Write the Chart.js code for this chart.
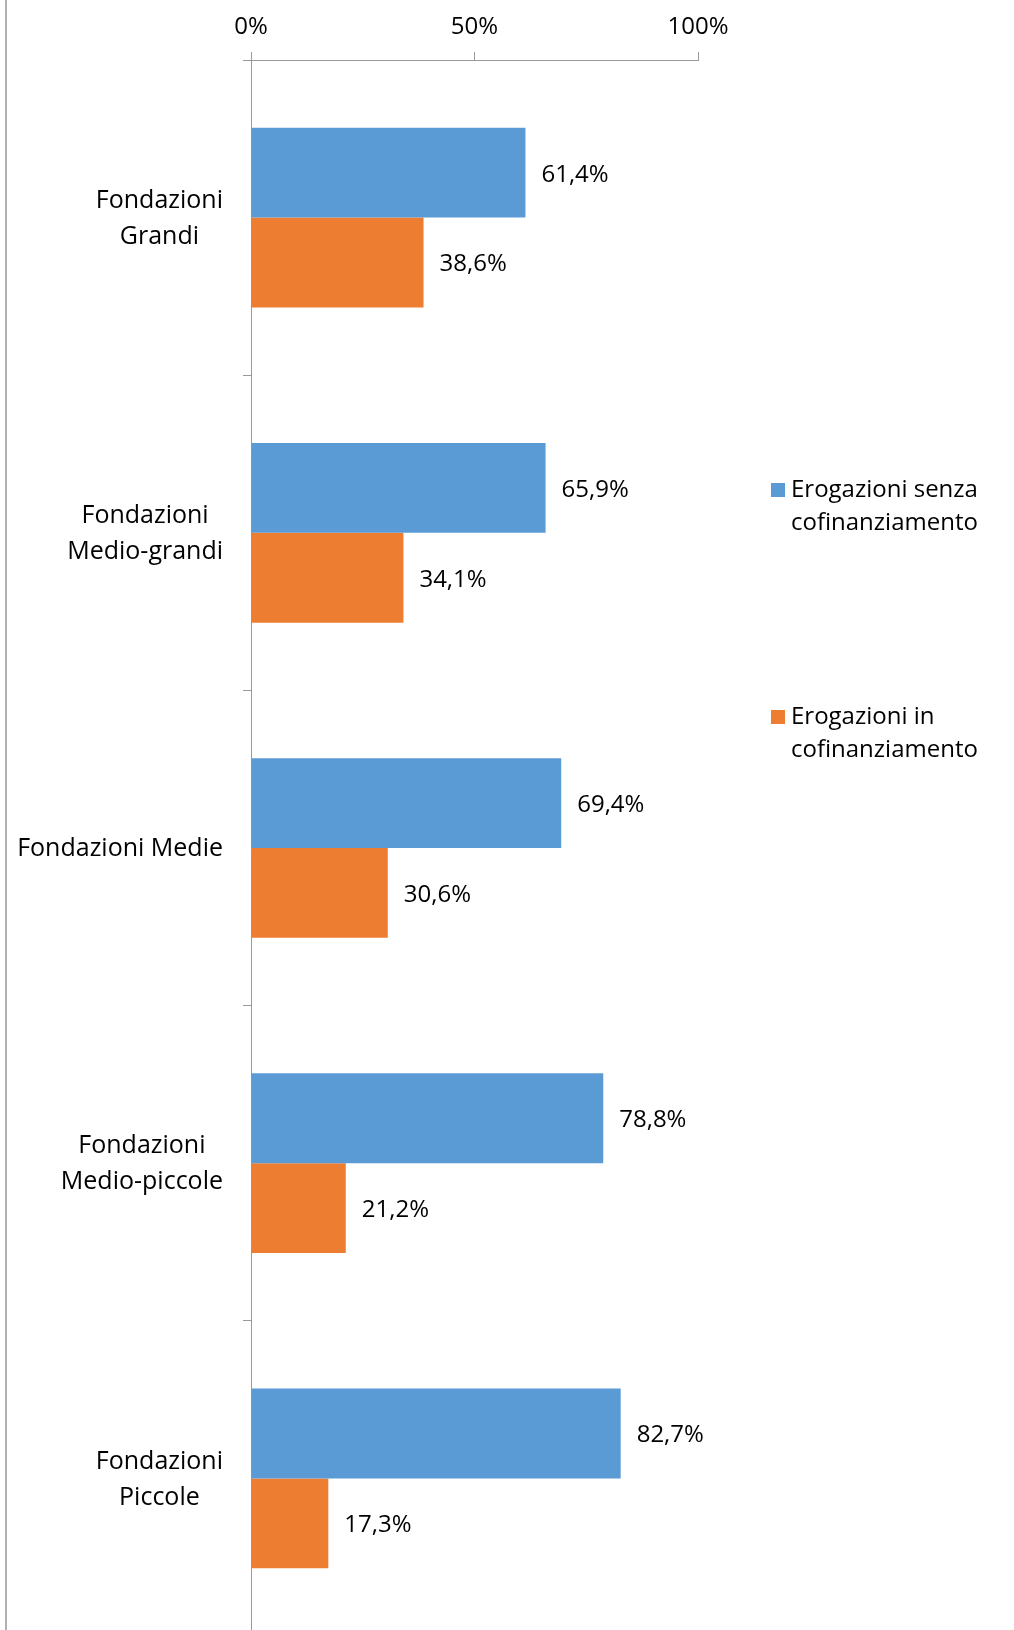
<!DOCTYPE html>
<html>
<head>
<meta charset="utf-8">
<script src="https://cdn.jsdelivr.net/npm/chart.js@4.4.1/dist/chart.umd.min.js"></script>
<style>
  html, body { margin: 0; padding: 0; background: #fff; overflow: hidden; }
  #wrap { position: relative; width: 1014px; height: 1640px; }
  #frame { position: absolute; left: 5px; top: 0; width: 0; height: 1640px; border-left: 2px solid #b0b0b0; }
  canvas { position: absolute; left: 0; top: 0; }
</style>
</head>
<body>
<div id="wrap">
  <canvas id="c" width="1014" height="1640"></canvas>
  <div id="frame"></div>
</div>
<script>
const categories = [
  ["Fondazioni", "Grandi"],
  ["Fondazioni", "Medio-grandi"],
  ["Fondazioni Medie"],
  ["Fondazioni", "Medio-piccole"],
  ["Fondazioni", "Piccole"]
];
const seriesNames = [
  ["Erogazioni senza", "cofinanziamento"],
  ["Erogazioni in", "cofinanziamento"]
];
const senzaCofin = [61.4, 65.9, 69.4, 78.8, 82.7];
const inCofin = [38.6, 34.1, 30.6, 21.2, 17.3];
const xTicks = [0, 50, 100];
const colors = ["#5B9BD5", "#ED7D31"];

const FONT = "'Open Sans', sans-serif";
const FS = 24;
const FS_CAT = 25;

function fmt(v) { return v.toFixed(1).replace('.', ',') + '%'; }

const labelsPlugin = {
  id: 'customLabels',
  afterDatasetsDraw(chart) {
    const ctx = chart.ctx;
    ctx.save();
    ctx.font = FS + "px " + FONT;
    ctx.fillStyle = "#000";
    ctx.textBaseline = "middle";
    // data labels
    chart.data.datasets.forEach((ds, di) => {
      const meta = chart.getDatasetMeta(di);
      meta.data.forEach((bar, i) => {
        ctx.textAlign = "left";
        ctx.fillText(fmt(ds.data[i]), bar.x + 16, bar.y + 2);
      });
    });
    // legend
    const legendX = 771, legendTops = [490, 717], llh = 33;
    chart.data.datasets.forEach((ds, di) => {
      const y0 = legendTops[di];
      ctx.fillStyle = ds.backgroundColor;
      ctx.fillRect(legendX, y0 - 7, 14, 14);
      ctx.fillStyle = "#000";
      ctx.textAlign = "left";
      seriesNames[di].forEach((l, k) => ctx.fillText(l, legendX + 20, y0 + k * llh));
    });
    // category labels (block right-aligned, lines centered)
    ctx.font = FS_CAT + "px " + FONT;
    const yScale = chart.scales.y;
    const blockRight = chart.chartArea.left - 28;
    const lh = 36;
    categories.forEach((lines, i) => {
      const cy = yScale.getPixelForTick(i) + 1;
      let maxW = 0;
      lines.forEach(l => { maxW = Math.max(maxW, ctx.measureText(l).width); });
      const cx = blockRight - maxW / 2;
      const startY = cy - (lines.length - 1) * lh / 2;
      ctx.textAlign = "center";
      lines.forEach((l, k) => ctx.fillText(l, cx, startY + k * lh));
    });
    ctx.restore();
  }
};

new Chart(document.getElementById('c'), {
  type: 'bar',
  data: {
    labels: categories,
    datasets: [
      { label: seriesNames[0].join(' '), data: senzaCofin, backgroundColor: colors[0], categoryPercentage: 0.57, barPercentage: 1.0 },
      { label: seriesNames[1].join(' '), data: inCofin, backgroundColor: colors[1], categoryPercentage: 0.57, barPercentage: 1.0 }
    ]
  },
  options: {
    indexAxis: 'y',
    responsive: false,
    animation: false,
    devicePixelRatio: 1,
    layout: { padding: { left: 0, right: 316, top: 0, bottom: 4 } },
    plugins: { legend: { display: false }, tooltip: { enabled: false }, title: { display: false } },
    scales: {
      x: {
        position: 'top',
        min: 0, max: 100,
        afterBuildTicks(scale) { scale.ticks = xTicks.map(v => ({ value: v })); },
        afterFit(scale) { scale.height = 60; },
        ticks: {
          font: { family: FONT, size: FS },
          color: '#000',
          padding: 10,
          callback: v => v + '%'
        },
        grid: { drawOnChartArea: false, drawTicks: true, tickLength: 8, color: '#9a9a9a', tickColor: '#9a9a9a' },
        border: { color: '#9a9a9a', width: 1 }
      },
      y: {
        afterFit(scale) { scale.width = 251; },
        ticks: { display: false },
        grid: { drawOnChartArea: false, drawTicks: true, tickLength: 8, color: '#9a9a9a', tickColor: '#9a9a9a', offset: true },
        border: { color: '#9a9a9a', width: 1 }
      }
    }
  },
  plugins: [labelsPlugin]
});
</script>
</body>
</html>
